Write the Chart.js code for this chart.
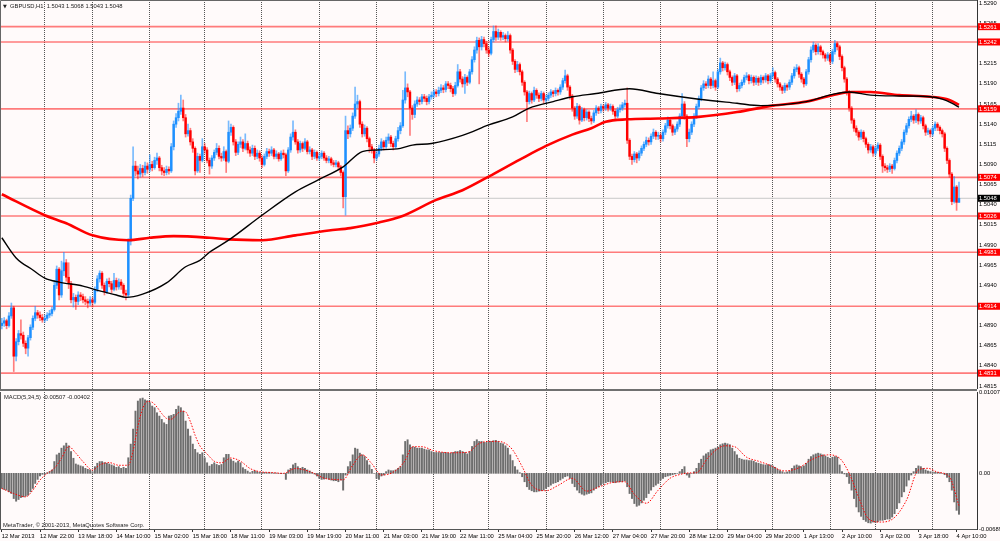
<!DOCTYPE html>
<html>
<head>
<meta charset="utf-8">
<title>GBPUSD,H1</title>
<script src="https://cdn.jsdelivr.net/npm/chart.js@4.4.1/dist/chart.umd.min.js"></script>
<style>
  html, body { margin: 0; padding: 0; background: #fffafa; }
  #wrap { position: relative; width: 1000px; height: 541px; overflow: hidden; background: #fffafa; }
  #price { position: absolute; left: 0; top: 0; }
  #sep { position: absolute; left: 0; top: 389px; width: 977px; height: 2px; background: #707070; }
  #macd { position: absolute; left: 0; top: 386px; }
</style>
</head>
<body>
<div id="wrap">
  <canvas id="price" width="1000" height="389"></canvas>
  <div id="sep"></div>
  <canvas id="macd" width="1000" height="155"></canvas>
</div>
<script>
// ---------- data ----------

const symbol = 'GBPUSD,H1';

// H1 bars, prices in pips above 1.0000 (4890 = 1.4890)
const opens = [
  4890,4893,4896,4890,4902,4912,4852,4870,4880,4878,
  4868,4862,4875,4888,4899,4906,4903,4900,4897,4899,
  4903,4905,4910,4940,4960,4928,4958,4968,4950,4942,
  4922,4925,4920,4928,4926,4922,4920,4918,4922,4919,
  4935,4948,4955,4940,4932,4945,4942,4935,4946,4938,
  4944,4940,4930,4928,4995,5048,5088,5082,5078,5085,
  5080,5088,5084,5090,5086,5095,5098,5086,5082,5080,
  5084,5082,5112,5140,5148,5156,5160,5148,5128,5132,
  5118,5110,5082,5100,5095,5112,5108,5095,5088,5098,
  5105,5110,5100,5098,5106,5094,5130,5136,5118,5105,
  5115,5118,5110,5116,5108,5104,5110,5100,5104,5098,
  5090,5100,5106,5104,5108,5100,5103,5097,5104,5102,
  5082,5108,5124,5130,5118,5108,5116,5110,5118,5106,
  5108,5100,5105,5098,5100,5104,5098,5095,5097,5092,
  5090,5092,5087,5080,5050,5132,5128,5135,5150,5165,
  5168,5140,5128,5135,5122,5112,5108,5098,5103,5110,
  5118,5112,5120,5124,5116,5112,5122,5132,5138,5170,
  5185,5180,5160,5152,5165,5170,5168,5174,5172,5168,
  5174,5176,5180,5178,5182,5185,5183,5190,5188,5184,
  5178,5188,5205,5196,5190,5198,5192,5205,5220,5232,
  5244,5236,5245,5240,5232,5228,5245,5255,5248,5254,
  5248,5250,5246,5250,5232,5218,5208,5214,5205,5192,
  5180,5168,5178,5170,5182,5176,5172,5178,5170,5172,
  5176,5180,5178,5182,5180,5186,5194,5200,5186,5175,
  5160,5150,5162,5145,5158,5148,5155,5147,5144,5154,
  5160,5157,5162,5160,5164,5160,5162,5156,5150,5158,
  5160,5164,5166,5120,5100,5096,5103,5098,5104,5110,
  5115,5120,5118,5125,5130,5125,5126,5122,5130,5138,
  5145,5138,5130,5134,5140,5150,5165,5150,5122,5130,
  5140,5150,5162,5172,5185,5190,5188,5196,5188,5194,
  5186,5205,5216,5210,5214,5205,5198,5192,5200,5184,
  5188,5192,5198,5200,5194,5198,5192,5197,5192,5198,
  5195,5200,5194,5200,5204,5196,5190,5186,5182,5188,
  5186,5192,5200,5208,5210,5202,5196,5190,5205,5220,
  5232,5238,5230,5236,5230,5226,5222,5226,5218,5230,
  5240,5236,5224,5210,5196,5180,5160,5145,5135,5130,
  5124,5130,5122,5115,5108,5112,5104,5110,5114,5100,
  5088,5086,5084,5088,5085,5095,5104,5110,5118,5130,
  5138,5146,5150,5145,5152,5144,5148,5138,5130,5132,
  5128,5135,5140,5136,5132,5128,5110,5095,5078,5044,
  5062,5043
];
const highs = [
  4899,4900,4898,4906,4918,4914,4874,4884,4897,4882,
  4871,4878,4891,4902,4914,4909,4907,4904,4903,4906,
  4909,4913,4946,4964,4962,4970,4981,4972,4968,4945,
  4930,4928,4932,4931,4929,4926,4923,4926,4925,4938,
  4952,4958,4957,4943,4948,4949,4945,4955,4949,4948,
  4947,4942,4934,4998,5052,5112,5094,5088,5090,5089,
  5093,5092,5102,5094,5099,5104,5100,5089,5086,5088,
  5087,5116,5144,5153,5166,5176,5170,5152,5140,5135,
  5122,5112,5104,5103,5122,5116,5111,5098,5101,5108,
  5116,5113,5104,5112,5108,5144,5140,5138,5121,5118,
  5124,5121,5128,5119,5112,5114,5113,5108,5107,5101,
  5103,5110,5109,5112,5110,5107,5105,5107,5108,5104,
  5111,5128,5144,5133,5121,5119,5118,5122,5120,5112,
  5110,5108,5107,5104,5107,5106,5101,5100,5099,5095,
  5095,5094,5089,5082,5150,5138,5139,5154,5186,5176,
  5170,5143,5139,5137,5124,5115,5110,5107,5114,5122,
  5120,5124,5128,5126,5119,5125,5136,5142,5182,5205,
  5190,5182,5163,5169,5174,5173,5177,5177,5175,5177,
  5180,5183,5183,5186,5189,5188,5193,5193,5191,5187,
  5192,5214,5208,5199,5202,5200,5208,5224,5236,5248,
  5247,5249,5248,5243,5236,5248,5262,5262,5258,5256,
  5254,5252,5255,5252,5234,5220,5218,5216,5207,5194,
  5182,5181,5180,5186,5184,5179,5181,5180,5176,5179,
  5183,5182,5185,5184,5189,5197,5207,5202,5188,5177,
  5162,5166,5164,5161,5160,5158,5157,5150,5157,5163,
  5162,5165,5164,5167,5166,5165,5164,5158,5161,5164,
  5167,5170,5185,5122,5103,5106,5105,5107,5113,5118,
  5124,5123,5128,5134,5132,5130,5129,5133,5141,5149,
  5147,5140,5137,5143,5153,5178,5168,5152,5134,5143,
  5153,5165,5175,5188,5194,5193,5200,5198,5205,5196,
  5208,5222,5218,5217,5216,5207,5200,5203,5202,5191,
  5195,5201,5204,5202,5201,5200,5200,5199,5201,5200,
  5203,5202,5203,5210,5206,5198,5192,5188,5191,5190,
  5195,5203,5211,5214,5212,5204,5198,5208,5223,5236,
  5242,5240,5240,5238,5232,5228,5229,5228,5233,5244,
  5242,5238,5226,5212,5198,5182,5162,5147,5138,5132,
  5133,5132,5124,5117,5115,5114,5113,5117,5116,5102,
  5091,5089,5091,5090,5098,5107,5113,5121,5133,5141,
  5149,5156,5152,5158,5154,5151,5150,5140,5135,5134,
  5138,5143,5142,5138,5134,5130,5112,5097,5080,5075,
  5064,5068
];
const lows = [
  4886,4889,4886,4888,4899,4833,4846,4866,4873,4864,
  4855,4852,4872,4885,4896,4899,4896,4894,4894,4896,
  4900,4902,4908,4936,4922,4925,4952,4945,4936,4918,
  4913,4910,4916,4921,4918,4916,4912,4915,4913,4917,
  4932,4944,4936,4928,4930,4938,4931,4933,4934,4935,
  4935,4926,4922,4926,4990,5045,5076,5072,5074,5075,
  5077,5079,5081,5082,5084,5090,5082,5077,5076,5077,
  5078,5080,5108,5136,5144,5152,5144,5124,5125,5114,
  5105,5077,5080,5080,5093,5104,5092,5078,5085,5095,
  5102,5097,5094,5095,5080,5092,5126,5114,5101,5102,
  5111,5106,5108,5104,5100,5101,5096,5097,5094,5086,
  5088,5097,5100,5101,5097,5097,5094,5095,5098,5076,
  5080,5105,5120,5115,5104,5105,5106,5108,5103,5103,
  5096,5097,5095,5095,5097,5095,5092,5092,5089,5087,
  5087,5084,5076,5036,5027,5122,5124,5132,5147,5160,
  5136,5124,5125,5118,5105,5104,5092,5095,5100,5107,
  5108,5110,5116,5112,5108,5110,5119,5128,5136,5166,
  5174,5126,5146,5148,5162,5164,5165,5168,5164,5165,
  5171,5173,5174,5175,5179,5179,5180,5184,5180,5174,
  5176,5186,5192,5186,5178,5188,5190,5202,5217,5228,
  5190,5232,5236,5228,5224,5226,5242,5244,5245,5244,
  5245,5242,5243,5228,5214,5204,5205,5201,5188,5176,
  5143,5165,5166,5168,5172,5168,5169,5166,5167,5169,
  5173,5174,5175,5176,5177,5183,5191,5182,5171,5156,
  5146,5147,5140,5143,5144,5145,5143,5140,5142,5151,
  5153,5154,5156,5157,5156,5157,5152,5146,5148,5155,
  5157,5161,5116,5096,5090,5093,5092,5095,5101,5107,
  5112,5114,5115,5122,5121,5121,5118,5119,5127,5135,
  5134,5126,5127,5131,5137,5147,5146,5112,5118,5127,
  5137,5147,5159,5169,5182,5184,5185,5184,5185,5182,
  5184,5202,5206,5207,5201,5194,5188,5189,5180,5181,
  5185,5189,5195,5190,5191,5188,5189,5188,5189,5191,
  5192,5190,5191,5197,5192,5186,5182,5178,5179,5182,
  5183,5189,5197,5205,5198,5192,5186,5188,5202,5217,
  5229,5226,5227,5226,5222,5218,5219,5214,5215,5227,
  5232,5220,5206,5192,5176,5156,5141,5131,5126,5120,
  5121,5118,5111,5104,5105,5100,5101,5107,5096,5080,
  5082,5080,5081,5079,5083,5092,5101,5107,5115,5127,
  5135,5143,5141,5142,5140,5141,5134,5126,5127,5124,
  5125,5132,5132,5128,5124,5106,5091,5074,5040,5042,
  5033,5043
];
const closes = [
  4893,4896,4890,4902,4912,4852,4870,4880,4878,4868,
  4862,4875,4888,4899,4906,4903,4900,4897,4899,4903,
  4905,4910,4940,4960,4928,4958,4968,4950,4942,4922,
  4925,4920,4928,4926,4922,4920,4918,4922,4919,4935,
  4948,4955,4940,4932,4945,4942,4935,4946,4938,4944,
  4940,4930,4928,4995,5048,5088,5082,5078,5085,5080,
  5088,5084,5090,5086,5095,5098,5086,5082,5080,5084,
  5082,5112,5140,5148,5156,5160,5148,5128,5132,5118,
  5110,5082,5100,5095,5112,5108,5095,5088,5098,5105,
  5110,5100,5098,5106,5094,5130,5136,5118,5105,5115,
  5118,5110,5116,5108,5104,5110,5100,5104,5098,5090,
  5100,5106,5104,5108,5100,5103,5097,5104,5102,5082,
  5108,5124,5130,5118,5108,5116,5110,5118,5106,5108,
  5100,5105,5098,5100,5104,5098,5095,5097,5092,5090,
  5092,5087,5080,5050,5132,5128,5135,5150,5165,5168,
  5140,5128,5135,5122,5112,5108,5098,5103,5110,5118,
  5112,5120,5124,5116,5112,5122,5132,5138,5170,5185,
  5180,5160,5152,5165,5170,5168,5174,5172,5168,5174,
  5176,5180,5178,5182,5185,5183,5190,5188,5184,5178,
  5188,5205,5196,5190,5198,5192,5205,5220,5232,5244,
  5236,5245,5240,5232,5228,5245,5255,5248,5254,5248,
  5250,5246,5250,5232,5218,5208,5214,5205,5192,5180,
  5168,5178,5170,5182,5176,5172,5178,5170,5172,5176,
  5180,5178,5182,5180,5186,5194,5200,5186,5175,5160,
  5150,5162,5145,5158,5148,5155,5147,5144,5154,5160,
  5157,5162,5160,5164,5160,5162,5156,5150,5158,5160,
  5164,5166,5120,5100,5096,5103,5098,5104,5110,5115,
  5120,5118,5125,5130,5125,5126,5122,5130,5138,5145,
  5138,5130,5134,5140,5150,5165,5150,5122,5130,5140,
  5150,5162,5172,5185,5190,5188,5196,5188,5194,5186,
  5205,5216,5210,5214,5205,5198,5192,5200,5184,5188,
  5192,5198,5200,5194,5198,5192,5197,5192,5198,5195,
  5200,5194,5200,5204,5196,5190,5186,5182,5188,5186,
  5192,5200,5208,5210,5202,5196,5190,5205,5220,5232,
  5238,5230,5236,5230,5226,5222,5226,5218,5230,5240,
  5236,5224,5210,5196,5180,5160,5145,5135,5130,5124,
  5130,5122,5115,5108,5112,5104,5110,5114,5100,5088,
  5086,5084,5088,5085,5095,5104,5110,5118,5130,5138,
  5146,5150,5145,5152,5144,5148,5138,5130,5132,5128,
  5135,5140,5136,5132,5128,5110,5095,5078,5044,5062,
  5043,5048
];

// moving averages, sampled at these bar numbers (pips above 1.0000)
const maBlackBars = [0,6,13,18,24,34,41,48,52,59,69,77,83,87,95,109,123,132,143,151,
  157,167,172,180,193,204,214,221,231,239,249,263,275,292,308,318,337,348,355,364,
  376,389,394,398,401];
const maBlackVals = [4999,4974,4959,4949,4944,4939,4933,4928,4925,4929,4943,4963,4971,4981,4996,5027,5056,5070,5087,5106,
  5108,5110,5114,5116,5126,5139,5149,5160,5168,5174,5178,5184,5178,5171,5166,5163,5168,5177,5180,5176,
  5175,5174,5171,5166,5161];
const maRedBars = [0,18,27,38,53,62,72,87,95,109,123,137,146,158,167,182,193,204,217,228,
  239,247,253,262,275,292,308,323,337,348,356,364,376,389,397,401];
const maRedVals = [5053,5027,5017,5002,4996,4999,5001,4999,4997,4996,5002,5008,5011,5018,5025,5046,5058,5075,5096,5113,
  5127,5135,5143,5146,5147,5149,5155,5163,5168,5176,5180,5180,5176,5174,5170,5164];

// horizontal levels and the current bid
const levels = [1.5261, 1.5242, 1.5159, 1.5074, 1.5026, 1.4981, 1.4914, 1.4831];
const bid = 1.5048;

// MACD(5,34,5) histogram per bar, in units of 0.00001
const macd = [
  -187,-200,-208,-229,-250,-312,-345,-324,-300,-291,
  -283,-270,-229,-187,-125,-75,-33,-12,-8,8,
  21,42,146,229,250,312,341,374,341,270,
  187,116,104,92,83,62,50,42,21,83,
  125,146,146,133,125,116,104,92,75,83,
  62,75,62,193,362,548,771,895,924,932,
  910,900,874,833,813,750,709,668,626,606,
  709,717,730,792,833,813,771,647,548,462,
  362,297,255,235,255,193,131,90,110,131,
  110,98,110,193,235,235,172,151,131,151,
  131,70,49,28,8,25,33,21,12,8,
  12,8,12,8,4,4,0,-4,0,-75,
  42,62,104,125,83,62,75,62,42,29,
  12,-8,-33,-62,-75,-71,-62,-75,-83,-92,
  -92,-104,-83,-208,-21,83,146,229,312,300,
  250,229,208,158,104,50,0,-62,-75,-33,
  -21,21,42,33,33,42,62,83,229,395,
  416,354,324,324,312,312,312,300,291,291,
  270,258,258,258,258,258,258,250,250,258,
  270,270,283,270,258,241,270,333,395,416,
  395,395,383,383,395,395,404,408,395,374,
  366,341,312,229,158,83,42,8,-42,-104,
  -166,-200,-216,-229,-229,-220,-216,-208,-187,-166,
  -146,-125,-116,-104,-83,-62,-42,-33,-62,-125,
  -166,-208,-241,-258,-270,-258,-250,-241,-208,-187,
  -166,-146,-125,-116,-104,-104,-112,-116,-108,-104,
  -104,-92,-166,-250,-312,-374,-408,-395,-366,-333,
  -300,-250,-208,-166,-146,-125,-83,-62,-42,-33,
  -25,-17,-8,0,21,50,83,-21,-50,0,
  21,62,125,175,216,241,258,291,300,312,
  324,354,366,374,366,354,312,270,229,187,
  175,166,166,158,158,150,133,125,116,108,
  104,108,104,92,75,50,33,21,8,17,
  29,62,92,104,92,83,92,125,175,208,
  229,241,250,241,229,216,200,187,200,208,
  200,104,21,-8,-42,-125,-208,-312,-416,-478,
  -532,-574,-595,-612,-616,-603,-607,-599,-582,-582,
  -574,-566,-566,-541,-499,-437,-366,-291,-229,-158,
  -83,-21,21,62,92,83,62,42,29,21,
  17,12,12,8,0,-17,-50,-104,-208,-354,
  -458,-507
];
// signal line, sampled at these bar numbers (units of 0.00001)
const signalBars = [0,5,10,13,16,19,22,25,28,31,34,38,41,45,49,53,55,57,59,61,
  63,65,67,69,71,73,75,77,79,81,83,86,89,92,96,100,104,108,113,118,
  123,130,135,139,143,147,151,155,159,164,169,172,176,181,188,195,200,204,208,211,
  214,218,222,228,233,239,245,250,256,261,265,270,275,280,284,288,291,296,303,307,
  312,317,321,328,334,339,346,351,355,359,363,368,373,379,384,388,392,397,401];
const signalVals = [-187,-250,-291,-208,-83,0,62,187,333,250,146,40,104,133,100,100,280,580,800,890,
  880,820,740,680,670,720,770,760,640,470,340,240,150,130,190,150,60,21,10,0,
  60,10,-60,-75,-80,100,229,120,-20,15,160,330,330,280,255,260,370,395,395,370,
  291,83,-146,-215,-150,-62,-220,-170,-112,-104,-260,-370,-208,-60,-15,5,8,200,341,330,
  200,150,110,30,70,166,229,187,0,-300,-560,-603,-570,-333,42,62,15,-42,-402];

// axes
const priceTicks = [1.4815,1.4840,1.4865,1.4890,1.4915,1.4940,1.4965,1.4990,1.5015,1.5040,
  1.5065,1.5090,1.5115,1.5140,1.5165,1.5190,1.5215,1.5240,1.5265,1.5290];
const macdTicks = [-0.00689, 0, 0.01007];
const macdTickLabels = ['-0.00689', '0.00', '0.01007'];
const dayBars = [18,38,62,85,109,133,157,181,204,228,252,276,300,323,347,366,390];
const labelBars = [0,16,32,48,64,80,96,112,128,144,160,176,192,208,224,240,256,272,288,304,320,336,352,368,384,400];
const timeLabels = ['12 Mar 2013','12 Mar 22:00','13 Mar 18:00','14 Mar 10:00','15 Mar 02:00','15 Mar 18:00',
  '18 Mar 11:00','19 Mar 03:00','19 Mar 19:00','20 Mar 11:00','21 Mar 03:00','21 Mar 19:00','22 Mar 11:00',
  '25 Mar 04:00','25 Mar 20:00','26 Mar 12:00','27 Mar 04:00','27 Mar 20:00','28 Mar 12:00','29 Mar 04:00',
  '29 Mar 20:00','1 Apr 13:00','2 Apr 10:00','3 Apr 02:00','3 Apr 18:00','4 Apr 10:00'];

// ---------- layout / style ----------

const PIP = 0.0001;
const MACD_UNIT = 0.00001;
const X_MIN = -0.34, X_MAX = 408.55;
const Y_MIN = 1.48113, Y_MAX = 1.52941;
const FONT = { family: '"Liberation Sans", Arial, sans-serif', size: 5.8 };
const FONT_CSS = '5.8px "Liberation Sans", Arial, sans-serif';
const BULL = '#1e90ff', BEAR = '#ff0000';
const BULL_WICK = 'rgba(30,144,255,0.6)', BEAR_WICK = 'rgba(255,0,0,0.5)';
const GRID = '#555555';

const toPrice = v => 1 + v * PIP;
const last = closes.length - 1;
const isBull = closes.map((c, i) => c >= opens[i]);

/**
 * Shared x axis: linear bar-number scale, dotted day separators
 */
function dayGridAxis() {
  return {
    type: 'linear', min: X_MIN, max: X_MAX, offset: false,
    afterBuildTicks: s => { s.ticks = dayBars.map(v => ({ value: v })); },
    ticks: { display: false },
    grid: { display: true, color: GRID, lineWidth: 1, drawTicks: false, offset: false },
    border: { display: false, dash: [1, 1] },
    afterFit: s => { s.height = 0; s.paddingLeft = 0; s.paddingRight = 0; }
  };
}

function rightAxis(min, max, tickVals, fmt) {
  return {
    type: 'linear', position: 'right', min: min, max: max,
    afterBuildTicks: s => { s.ticks = tickVals.map(v => ({ value: v })); },
    ticks: { font: FONT, color: '#000', padding: 2, autoSkip: false, callback: fmt },
    grid: { display: false, drawTicks: false, tickLength: 0 },
    border: { display: true, color: '#333', width: 1 },
    afterFit: s => { s.width = 23; s.paddingTop = 0; s.paddingBottom = 0; }
  };
}

// price tags on the right axis, header text, frame
const pricePlugin = {
  id: 'priceDecor',
  afterDraw(chart) {
    const { ctx, chartArea, scales } = chart;
    const y = scales.y;
    ctx.save();
    ctx.font = FONT_CSS;
    ctx.textBaseline = 'middle';
    const tag = (v, color) => {
      const py = y.getPixelForValue(v);
      ctx.fillStyle = color;
      ctx.fillRect(y.left + 1, py - 3.5, 22, 7);
      ctx.fillStyle = '#fff';
      ctx.fillText(v.toFixed(4), y.left + 2, py + 0.3);
    };
    levels.forEach(v => tag(v, '#ff0000'));
    tag(bid, '#000000');

    ctx.strokeStyle = '#666';
    ctx.lineWidth = 1;
    ctx.beginPath();
    ctx.moveTo(0.5, chartArea.bottom);
    ctx.lineTo(0.5, 0.5);
    ctx.lineTo(chartArea.right, 0.5);
    ctx.stroke();

    ctx.fillStyle = '#222';
    ctx.font = '5px "DejaVu Sans", sans-serif';
    ctx.fillText('\u25BC', 3, 6.5);
    ctx.font = FONT_CSS;
    const ohlc = [opens[last], highs[last], lows[last], closes[last]].map(v => toPrice(v).toFixed(4));
    ctx.fillText(symbol + '  ' + ohlc.join(' '), 10, 6.5);
    ctx.restore();
  }
};

const macdPlugin = {
  id: 'macdDecor',
  afterDraw(chart) {
    const { ctx, chartArea } = chart;
    ctx.save();
    ctx.strokeStyle = '#555';
    ctx.lineWidth = 1;
    ctx.beginPath();
    ctx.moveTo(0.5, chartArea.top);
    ctx.lineTo(0.5, chartArea.bottom + 0.5);
    ctx.lineTo(chartArea.right, chartArea.bottom + 0.5);
    ctx.stroke();

    ctx.font = FONT_CSS;
    ctx.textBaseline = 'middle';
    ctx.fillStyle = '#222';
    const m = (macd[last] * MACD_UNIT).toFixed(5);
    const s = (signalVals[signalVals.length - 1] * MACD_UNIT).toFixed(5);
    ctx.fillText('MACD(5,34,5) ' + m + ' ' + s, 4, chartArea.top + 5);
    ctx.fillText('MetaTrader, \u00A9 2001-2013, MetaQuotes Software Corp.', 3, chartArea.bottom - 4);
    ctx.restore();
  }
};

// ---------- price chart ----------

const levelSets = levels.map(v => ({
  type: 'line',
  data: [{ x: X_MIN, y: v }, { x: X_MAX, y: v }],
  borderColor: 'rgba(255,45,45,0.62)', borderWidth: 1.6,
  pointRadius: 0, order: 20
}));

new Chart(document.getElementById('price'), {
  type: 'bar',
  data: {
    datasets: [
      ...levelSets,
      {
        type: 'line',
        data: [{ x: X_MIN, y: bid }, { x: X_MAX, y: bid }],
        borderColor: '#c8c8c8', borderWidth: 1, pointRadius: 0, order: 19
      },
      {
        type: 'bar',
        data: closes.map((c, i) => ({ x: i, y: [toPrice(lows[i]), toPrice(highs[i])] })),
        backgroundColor: isBull.map(b => b ? BULL_WICK : BEAR_WICK),
        barThickness: 1, grouped: false, order: 10
      },
      {
        type: 'bar',
        data: closes.map((c, i) => ({ x: i, y: [toPrice(opens[i]), toPrice(c)] })),
        backgroundColor: isBull.map(b => b ? BULL : BEAR),
        barThickness: 1.8, minBarLength: 1, grouped: false, order: 9
      },
      {
        type: 'line',
        data: maRedBars.map((b, k) => ({ x: b, y: toPrice(maRedVals[k]) })),
        borderColor: '#ff0000', borderWidth: 2.6, pointRadius: 0,
        cubicInterpolationMode: 'monotone', order: 2
      },
      {
        type: 'line',
        data: maBlackBars.map((b, k) => ({ x: b, y: toPrice(maBlackVals[k]) })),
        borderColor: '#000000', borderWidth: 1.4, pointRadius: 0,
        cubicInterpolationMode: 'monotone', order: 1
      }
    ]
  },
  options: {
    responsive: false,
    animation: false,
    events: [],
    layout: { padding: { left: 1, top: 0, right: 0, bottom: 0 } },
    plugins: { legend: { display: false }, tooltip: { enabled: false } },
    scales: {
      x: dayGridAxis(),
      y: rightAxis(Y_MIN, Y_MAX, priceTicks, v => v.toFixed(4))
    }
  },
  plugins: [pricePlugin]
});

// ---------- MACD chart ----------

const labelAxis = {
  type: 'linear', axis: 'x', position: 'bottom', min: X_MIN, max: X_MAX, offset: false,
  afterBuildTicks: s => { s.ticks = labelBars.map(v => ({ value: v })); },
  ticks: {
    font: FONT, color: '#000', align: 'start', autoSkip: false,
    maxRotation: 0, minRotation: 0, padding: 1,
    callback: (v, i) => timeLabels[i]
  },
  grid: { display: true, drawOnChartArea: false, drawTicks: true, tickLength: 3, tickColor: '#333', color: '#333', offset: false },
  border: { display: false },
  afterFit: s => { s.height = 12; s.paddingLeft = 0; s.paddingRight = 0; }
};

new Chart(document.getElementById('macd'), {
  type: 'bar',
  data: {
    datasets: [
      {
        type: 'bar',
        data: macd.map((v, i) => ({ x: i, y: v * MACD_UNIT })),
        backgroundColor: '#6e6e6e',
        barThickness: 1.3, grouped: false, order: 5
      },
      {
        type: 'line',
        data: signalBars.map((b, k) => ({ x: b, y: signalVals[k] * MACD_UNIT })),
        borderColor: '#ff0000', borderWidth: 1, borderDash: [1.5, 1.5],
        pointRadius: 0, cubicInterpolationMode: 'monotone', order: 1
      }
    ]
  },
  options: {
    responsive: false,
    animation: false,
    events: [],
    layout: { padding: { left: 1, top: 6, right: 0, bottom: 0 } },
    plugins: { legend: { display: false }, tooltip: { enabled: false } },
    scales: {
      x: dayGridAxis(),
      xl: labelAxis,
      y: rightAxis(-0.00689, 0.01007, macdTicks, (v, i) => macdTickLabels[i])
    }
  },
  plugins: [macdPlugin]
});
</script>
</body>
</html>
